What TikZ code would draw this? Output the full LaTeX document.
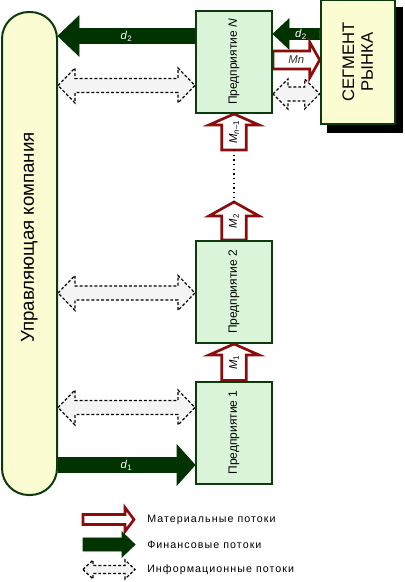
\documentclass[tikz,border=0pt]{standalone}
\usepackage{fontspec}
\setmainfont{Liberation Sans}
\usetikzlibrary{calc,positioning}
\usepackage{xcolor}

\definecolor{frameGreen}{RGB}{12,58,12}
\definecolor{finGreen}{RGB}{0,51,0}
\definecolor{matRed}{RGB}{140,12,12}
\definecolor{entFill}{RGB}{218,244,218}
\definecolor{ylwFill}{RGB}{252,252,210}
\definecolor{infoFill}{RGB}{244,244,244}

\pgfdeclarelayer{bg}
\pgfsetlayers{bg,main}

% block arrow: style, from, to, half shaft, half head, head length
\newcommand\blockarrow[6]{%
  \coordinate (hb) at ($(#3)!#6!(#2)$);
  \draw[#1] ($(#2)!#4!90:(#3)$) -- ($(hb)!#4!90:(#3)$) -- ($(hb)!#5!90:(#3)$) -- (#3)
    -- ($(hb)!#5!-90:(#3)$) -- ($(hb)!#4!-90:(#3)$) -- ($(#2)!#4!-90:(#3)$) -- cycle;}
% double block arrow, same arguments
\newcommand\dblarrow[6]{%
  \coordinate (ha) at ($(#2)!#6!(#3)$);
  \coordinate (hb) at ($(#3)!#6!(#2)$);
  \draw[#1] (#2) -- ($(ha)!#5!90:(#3)$) -- ($(ha)!#4!90:(#3)$) -- ($(hb)!#4!90:(#3)$)
    -- ($(hb)!#5!90:(#3)$) -- (#3) -- ($(hb)!#5!-90:(#3)$) -- ($(hb)!#4!-90:(#3)$)
    -- ($(ha)!#4!-90:(#3)$) -- ($(ha)!#5!-90:(#3)$) -- cycle;}

\begin{document}
\begin{tikzpicture}[x=0.75pt,y=-0.75pt,
    ent/.style={draw=frameGreen,line width=1.5pt,fill=entFill,minimum width=57pt,
                minimum height=76.5pt,inner sep=0pt},
    entText/.style={rotate=90,font=\fontsize{9pt}{10pt}\selectfont},
    fin/.style={fill=finGreen,draw=finGreen,line width=0.6pt},
    mat/.style={fill=white,draw=matRed,line width=2pt},
    info/.style={fill=infoFill,draw=black,line width=0.9pt,dash pattern=on 2.2pt off 1.5pt},
    flowLbl/.style={font=\fontsize{8.5pt}{8.5pt}\selectfont,inner sep=0pt},
    legend/.style={anchor=west,inner sep=0pt,
                   font=\fontsize{8pt}{9pt}\selectfont\addfontfeatures{LetterSpace=10}}]

  \useasboundingbox (0,0) rectangle (404,582);

  % management company and enterprises
  \node[draw=frameGreen,line width=1.5pt,fill=ylwFill,rounded corners=20pt,
        minimum width=41.25pt,minimum height=362.25pt] (mgmt) at (29.5,253.5) {};
  \node[rotate=90,font=\fontsize{14pt}{15pt}\selectfont] (mgmtLbl)
        at ($(mgmt.center)+(0,-16)$) {Управляющая компания};

  \node[ent,label={[entText]center:Предприятие 1}] (en1) at (234,432.5) {};
  \node[ent,above=27.4pt of en1,label={[entText]center:Предприятие 2}] (en2) {};
  \node[ent,above=94.5pt of en2,label={[entText]center:Предприятие \textit{N}}] (enN) {};
  \node[draw=frameGreen,line width=1.5pt,fill=ylwFill,minimum width=55.5pt,
        minimum height=93pt,inner sep=0pt,right=35pt of enN,
        label={[rotate=90,align=center,font=\fontsize{12.5pt}{14pt}\selectfont]center:СЕГМЕНТ\\РЫНКА}] (seg) {};

  % end points of the flows
  \coordinate (d2s) at ($(enN.west)+(0,-26)$);
  \coordinate (d2e) at (mgmt.east |- d2s);
  \coordinate (d2ss) at ($(seg.west)+(0,-28)$);
  \coordinate (d2se) at (enN.east |- d2ss);
  \coordinate (mns) at ($(enN.east)+(0,-2)$);
  \coordinate (mne) at (seg.west |- mns);
  \coordinate (iss) at ($(enN.east)+(0,32)$);
  \coordinate (ise) at (seg.west |- iss);
  \coordinate (d1s) at ($(en1.west)+(0,32.5)$);
  \coordinate (d1e) at (mgmt.east |- d1s);
  \coordinate (m2tip) at ($(en2.north)+(0,-38)$);
  \coordinate (mn1b) at ($(enN.south)+(0,36)$);

  \begin{pgfonlayer}{bg}
    \fill[black] ($(seg.south west)+(7,8)$) rectangle ($(seg.north east)+(7,8)$);
    \blockarrow{fin}{d2s}{d2e}{5.6pt}{15pt}{15.75pt}
    \blockarrow{fin}{d2ss}{d2se}{4.1pt}{11.25pt}{12pt}
    \blockarrow{fin}{d1e}{d1s}{5.6pt}{15pt}{13.5pt}
    \blockarrow{mat}{mns}{mne}{6.75pt}{13.5pt}{7.5pt}
    \blockarrow{mat}{en1.north}{en2.south}{9.2pt}{18.8pt}{8.25pt}
    \blockarrow{mat}{en2.north}{m2tip}{9.2pt}{18.8pt}{10.5pt}
    \blockarrow{mat}{mn1b}{enN.south}{9.2pt}{18.8pt}{8.25pt}
    \dblarrow{info}{iss}{ise}{5.25pt}{11.25pt}{11.25pt}
    \foreach \en/\dy in {enN/23.5,en2/1,en1/-25} {
      \coordinate (i\en) at ($(\en.west)+(0,\dy)$);
      \dblarrow{info}{mgmt.east |- i\en}{i\en}{5.3pt}{13.1pt}{12.75pt}
    }
    \draw[black,line width=0.8pt,dash pattern=on 1pt off 2.5pt] (mn1b) -- (m2tip);
  \end{pgfonlayer}

  % flow labels
  \node[flowLbl,text=white] (d2Lbl) at ($(d2s)!0.5!(d2e)$) {\textit{d}\textsubscript{2}};
  \node[flowLbl,text=white] (d2sLbl) at ($(d2ss)!0.4!(d2se)$) {\textit{d}\textsubscript{2}};
  \node[flowLbl,text=white] (d1Lbl) at ($(d1s)!0.5!(d1e)$) {\textit{d}\textsubscript{1}};
  \node[flowLbl,text=black!80] (mnLbl) at ($(mns)!0.5!(mne)$) {\textit{Mn}};
  \node[flowLbl,rotate=90] (m1Lbl) at ($(en1.north)!0.5!(en2.south)$) {\textit{M}\textsubscript{1}};
  \node[flowLbl,rotate=90] (m2Lbl) at ($(en2.north)!0.5!(m2tip)$) {\textit{M}\textsubscript{2}};
  \node[flowLbl,rotate=90] (mn1Lbl) at ($(mn1b)!0.5!(enN.south)$) {\textit{M}\textsubscript{\textit{n}–1}};

  % legend
  \foreach \txt [count=\i] in {Материальные потоки,Финансовые потоки,Информационные потоки}
    \node[legend] (lg\i) at (147,494.5+25*\i) {\txt};
  \coordinate (lg1a) at ($(lg1.west)+(-64,0)$);
  \coordinate (lg1b) at ($(lg1.west)+(-13,0)$);
  \coordinate (lg2a) at ($(lg2.west)+(-64,0)$);
  \coordinate (lg2b) at ($(lg2.west)+(-12,0)$);
  \coordinate (lg3a) at ($(lg3.west)+(-64,0)$);
  \coordinate (lg3b) at ($(lg3.west)+(-12,0)$);
  \blockarrow{mat}{lg1a}{lg1b}{3.8pt}{9pt}{6.75pt}
  \blockarrow{fin}{lg2a}{lg2b}{4.9pt}{9.4pt}{9.75pt}
  \dblarrow{info}{lg3a}{lg3b}{3pt}{7.1pt}{7.5pt}
\end{tikzpicture}
\end{document}
